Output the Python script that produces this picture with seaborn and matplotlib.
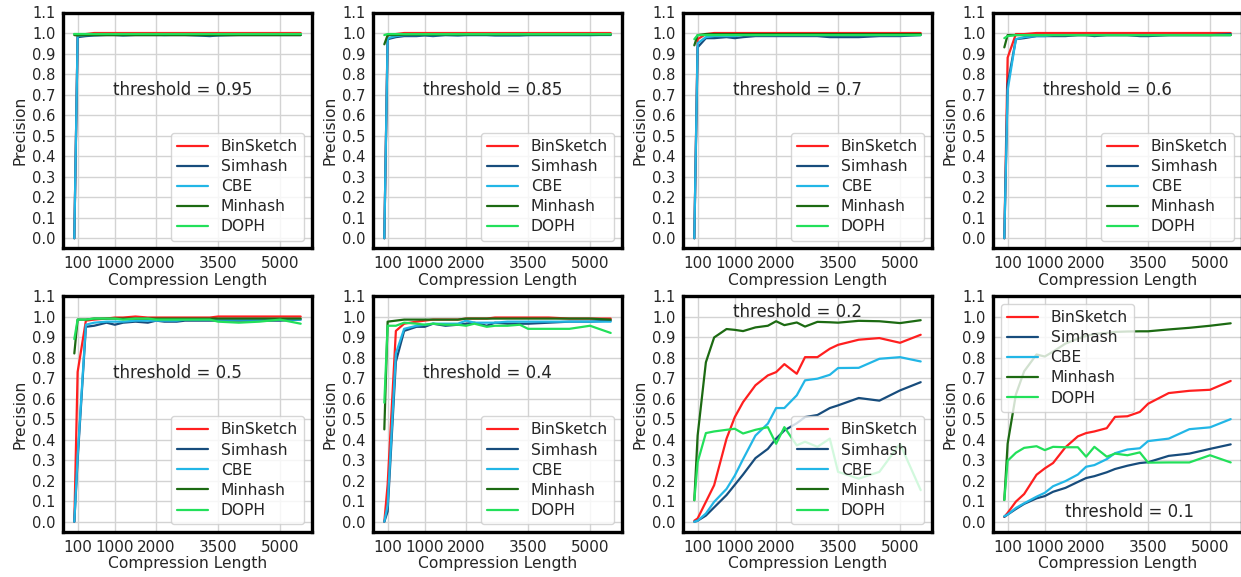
import matplotlib
matplotlib.use("Agg")
import matplotlib.pyplot as plt
import pandas as pd
import seaborn as sns

# Compression lengths shared by every panel
lengths = [20, 100, 300, 500, 800, 1000, 1200, 1500, 1800, 2000,
           2200, 2500, 2700, 3000, 3300, 3500, 4000, 4500, 5000, 5500]
methods = ["BinSketch", "Simhash", "CBE", "Minhash", "DOPH"]
thresholds = [0.95, 0.85, 0.7, 0.6, 0.5, 0.4, 0.2, 0.1]
xtick_values = [100, 1000, 2000, 3500, 5000]
ytick_values = [0.0, 0.1, 0.2, 0.3, 0.4, 0.5, 0.6, 0.7, 0.8, 0.9, 1.0, 1.1]

# threshold = 0.95
t095_binsketch = [0.0, 0.99, 0.995, 1.0, 1.0, 1.0, 1.0, 1.0, 1.0, 1.0, 1.0, 1.0, 1.0, 1.0, 1.0, 1.0, 1.0, 1.0, 1.0, 1.0]
t095_simhash = [0.0, 0.98, 0.985, 0.988, 0.99, 0.99, 0.988, 0.99, 0.99, 0.99, 0.99, 0.99, 0.99, 0.988, 0.985, 0.988, 0.99, 0.99, 0.99, 0.99]
t095_cbe = [0.0, 0.985, 0.99, 0.99, 0.992, 0.992, 0.99, 0.992, 0.992, 0.992, 0.99, 0.992, 0.992, 0.99, 0.99, 0.99, 0.992, 0.992, 0.992, 0.992]
t095_minhash = [0.99, 0.988, 0.99, 0.99, 0.99, 0.99, 0.99, 0.99, 0.99, 0.99, 0.99, 0.99, 0.99, 0.99, 0.99, 0.99, 0.99, 0.99, 0.99, 0.99]
t095_doph = [0.995, 0.995, 0.995, 0.995, 0.995, 0.995, 0.995, 0.995, 0.995, 0.995, 0.995, 0.995, 0.995, 0.995, 0.995, 0.995, 0.995, 0.995, 0.995, 0.995]

# threshold = 0.85
t085_binsketch = [0.0, 0.99, 0.995, 1.0, 1.0, 1.0, 1.0, 1.0, 1.0, 1.0, 1.0, 1.0, 1.0, 1.0, 1.0, 1.0, 1.0, 1.0, 1.0, 1.0]
t085_simhash = [0.0, 0.97, 0.98, 0.985, 0.985, 0.988, 0.985, 0.99, 0.988, 0.99, 0.99, 0.99, 0.988, 0.988, 0.988, 0.99, 0.99, 0.99, 0.99, 0.992]
t085_cbe = [0.0, 0.975, 0.985, 0.99, 0.99, 0.99, 0.99, 0.99, 0.99, 0.99, 0.99, 0.99, 0.99, 0.99, 0.99, 0.99, 0.99, 0.99, 0.99, 0.99]
t085_minhash = [0.945, 0.99, 0.99, 0.992, 0.992, 0.992, 0.992, 0.992, 0.992, 0.992, 0.992, 0.992, 0.992, 0.992, 0.992, 0.992, 0.992, 0.992, 0.992, 0.992]
t085_doph = [0.99, 0.995, 0.995, 0.995, 0.995, 0.995, 0.995, 0.995, 0.995, 0.995, 0.995, 0.995, 0.995, 0.995, 0.995, 0.995, 0.995, 0.995, 0.995, 0.995]

# threshold = 0.7
t070_binsketch = [0.0, 0.97, 0.995, 1.0, 1.0, 1.0, 1.0, 1.0, 1.0, 1.0, 1.0, 1.0, 1.0, 1.0, 1.0, 1.0, 1.0, 1.0, 1.0, 1.0]
t070_simhash = [0.0, 0.93, 0.975, 0.975, 0.98, 0.975, 0.98, 0.985, 0.985, 0.985, 0.985, 0.985, 0.985, 0.985, 0.98, 0.98, 0.98, 0.985, 0.985, 0.99]
t070_cbe = [0.0, 0.95, 0.98, 0.985, 0.985, 0.985, 0.99, 0.99, 0.99, 0.99, 0.99, 0.99, 0.99, 0.99, 0.99, 0.99, 0.99, 0.99, 0.99, 0.99]
t070_minhash = [0.94, 0.99, 0.995, 0.995, 0.995, 0.995, 0.995, 0.995, 0.995, 0.995, 0.995, 0.995, 0.995, 0.995, 0.995, 0.995, 0.995, 0.995, 0.995, 0.995]
t070_doph = [0.97, 0.99, 0.99, 0.99, 0.99, 0.99, 0.99, 0.99, 0.99, 0.99, 0.99, 0.99, 0.99, 0.99, 0.99, 0.99, 0.99, 0.99, 0.99, 0.99]

# threshold = 0.6
t060_binsketch = [0.0, 0.88, 0.995, 0.995, 1.0, 1.0, 1.0, 1.0, 1.0, 1.0, 1.0, 1.0, 1.0, 1.0, 1.0, 1.0, 1.0, 1.0, 1.0, 1.0]
t060_simhash = [0.0, 0.75, 0.97, 0.975, 0.985, 0.985, 0.985, 0.985, 0.99, 0.99, 0.985, 0.99, 0.99, 0.99, 0.985, 0.985, 0.99, 0.99, 0.99, 0.995]
t060_cbe = [0.0, 0.72, 0.97, 0.98, 0.985, 0.985, 0.99, 0.99, 0.99, 0.99, 0.99, 0.99, 0.99, 0.99, 0.99, 0.99, 0.99, 0.99, 0.99, 0.99]
t060_minhash = [0.93, 0.99, 0.99, 0.99, 0.99, 0.99, 0.99, 0.99, 0.99, 0.99, 0.99, 0.99, 0.99, 0.99, 0.99, 0.99, 0.99, 0.99, 0.99, 0.99]
t060_doph = [0.975, 0.985, 0.99, 0.99, 0.99, 0.99, 0.99, 0.99, 0.99, 0.99, 0.99, 0.99, 0.99, 0.99, 0.99, 0.99, 0.99, 0.99, 0.99, 0.99]

# threshold = 0.5
t050_binsketch = [0.0, 0.73, 0.98, 0.985, 0.99, 0.995, 0.995, 1.0, 0.995, 0.995, 0.995, 0.995, 0.995, 0.995, 0.995, 1.0, 1.0, 1.0, 1.0, 1.0]
t050_simhash = [0.0, 0.3, 0.95, 0.955, 0.97, 0.96, 0.97, 0.975, 0.97, 0.98, 0.975, 0.975, 0.98, 0.98, 0.98, 0.98, 0.98, 0.98, 0.98, 0.985]
t050_cbe = [0.0, 0.32, 0.96, 0.97, 0.975, 0.975, 0.975, 0.98, 0.98, 0.98, 0.98, 0.98, 0.985, 0.985, 0.985, 0.985, 0.985, 0.985, 0.985, 0.985]
t050_minhash = [0.82, 0.985, 0.985, 0.99, 0.99, 0.99, 0.99, 0.99, 0.99, 0.99, 0.99, 0.99, 0.99, 0.99, 0.99, 0.99, 0.99, 0.99, 0.99, 0.99]
t050_doph = [0.89, 0.985, 0.985, 0.99, 0.99, 0.99, 0.985, 0.99, 0.99, 0.985, 0.985, 0.985, 0.985, 0.985, 0.985, 0.975, 0.97, 0.975, 0.985, 0.965]

# threshold = 0.4
t040_binsketch = [0.0, 0.18, 0.93, 0.965, 0.975, 0.98, 0.985, 0.985, 0.985, 0.99, 0.99, 0.99, 0.995, 0.995, 0.995, 0.995, 0.995, 0.99, 0.99, 0.99]
t040_simhash = [0.0, 0.05, 0.78, 0.93, 0.95, 0.95, 0.965, 0.955, 0.96, 0.965, 0.97, 0.955, 0.97, 0.965, 0.965, 0.965, 0.97, 0.975, 0.975, 0.98]
t040_cbe = [0.0, 0.08, 0.82, 0.94, 0.955, 0.96, 0.965, 0.965, 0.965, 0.98, 0.97, 0.97, 0.97, 0.975, 0.975, 0.975, 0.975, 0.975, 0.975, 0.975]
t040_minhash = [0.45, 0.975, 0.98, 0.985, 0.985, 0.985, 0.985, 0.985, 0.985, 0.99, 0.99, 0.99, 0.99, 0.99, 0.99, 0.99, 0.99, 0.99, 0.99, 0.985]
t040_doph = [0.58, 0.955, 0.955, 0.97, 0.965, 0.96, 0.965, 0.96, 0.96, 0.955, 0.965, 0.95, 0.955, 0.955, 0.96, 0.94, 0.94, 0.94, 0.955, 0.92]

# threshold = 0.2
t020_binsketch = [0.005, 0.016, 0.097, 0.178, 0.405, 0.51, 0.583, 0.665, 0.713, 0.729, 0.768, 0.721, 0.802, 0.802, 0.843, 0.862, 0.887, 0.895, 0.872, 0.911]
t020_simhash = [0.0, 0.005, 0.03, 0.07, 0.13, 0.18, 0.23, 0.31, 0.355, 0.405, 0.445, 0.48, 0.51, 0.52, 0.554, 0.567, 0.603, 0.59, 0.64, 0.68]
t020_cbe = [0.0, 0.005, 0.04, 0.097, 0.16, 0.225, 0.305, 0.42, 0.478, 0.554, 0.554, 0.616, 0.689, 0.697, 0.716, 0.749, 0.75, 0.794, 0.802, 0.781]
t020_minhash = [0.105, 0.42, 0.777, 0.898, 0.939, 0.935, 0.929, 0.947, 0.955, 0.977, 0.958, 0.971, 0.951, 0.974, 0.972, 0.97, 0.979, 0.977, 0.968, 0.982]
t020_doph = [0.105, 0.29, 0.432, 0.44, 0.448, 0.453, 0.43, 0.448, 0.461, 0.38, 0.461, 0.372, 0.39, 0.365, 0.405, 0.243, 0.21, 0.243, 0.38, 0.154]

# threshold = 0.1
t010_binsketch = [0.024, 0.043, 0.098, 0.135, 0.229, 0.26, 0.286, 0.363, 0.416, 0.432, 0.44, 0.456, 0.511, 0.514, 0.535, 0.575, 0.627, 0.638, 0.643, 0.686]
t010_simhash = [0.024, 0.035, 0.062, 0.087, 0.114, 0.125, 0.146, 0.165, 0.194, 0.213, 0.222, 0.241, 0.257, 0.273, 0.286, 0.29, 0.321, 0.332, 0.355, 0.377]
t010_cbe = [0.027, 0.035, 0.067, 0.09, 0.122, 0.141, 0.173, 0.198, 0.23, 0.268, 0.276, 0.305, 0.334, 0.352, 0.358, 0.393, 0.405, 0.451, 0.46, 0.5]
t010_minhash = [0.106, 0.38, 0.62, 0.733, 0.815, 0.805, 0.829, 0.868, 0.892, 0.905, 0.915, 0.92, 0.925, 0.927, 0.928, 0.928, 0.937, 0.945, 0.955, 0.967]
t010_doph = [0.106, 0.297, 0.336, 0.36, 0.368, 0.349, 0.365, 0.363, 0.363, 0.317, 0.365, 0.317, 0.332, 0.324, 0.338, 0.288, 0.289, 0.289, 0.324, 0.289]

panel_series = {
    0.95: [t095_binsketch, t095_simhash, t095_cbe, t095_minhash, t095_doph],
    0.85: [t085_binsketch, t085_simhash, t085_cbe, t085_minhash, t085_doph],
    0.7: [t070_binsketch, t070_simhash, t070_cbe, t070_minhash, t070_doph],
    0.6: [t060_binsketch, t060_simhash, t060_cbe, t060_minhash, t060_doph],
    0.5: [t050_binsketch, t050_simhash, t050_cbe, t050_minhash, t050_doph],
    0.4: [t040_binsketch, t040_simhash, t040_cbe, t040_minhash, t040_doph],
    0.2: [t020_binsketch, t020_simhash, t020_cbe, t020_minhash, t020_doph],
    0.1: [t010_binsketch, t010_simhash, t010_cbe, t010_minhash, t010_doph],
}

palette = {
    "BinSketch": "#ff1f1f",
    "Simhash": "#174c7c",
    "CBE": "#22b6e6",
    "Minhash": "#1c6a12",
    "DOPH": "#22e05a",
}

# placement of the "threshold = ..." caption (data coordinates) and legend
caption_pos = {0.2: (950, 1.0), 0.1: (1500, 0.025)}
legend_loc = {0.1: "upper left"}

sns.set_style("whitegrid", {"axes.edgecolor": "black", "grid.color": "#d3d3d3"})
plt.rcParams["font.family"] = ["DejaVu Sans"]

W, H = 1241, 577
fig = plt.figure(figsize=(W / 100, H / 100), dpi=100)

col_left = [63, 373, 683, 993]
row_top = [12.5, 296]
ax_w, ax_h = 249, 236

for i, thr in enumerate(thresholds):
    r, c = divmod(i, 4)
    ax = fig.add_axes([col_left[c] / W, 1 - (row_top[r] + ax_h) / H, ax_w / W, ax_h / H])
    rows = []
    for m, vals in zip(methods, panel_series[thr]):
        for x, y in zip(lengths, vals):
            rows.append({"Compression Length": x, "Precision": y, "method": m})
    df = pd.DataFrame(rows)
    sns.lineplot(data=df, x="Compression Length", y="Precision", hue="method",
                 hue_order=methods, palette=palette, linewidth=1.6, ax=ax)
    ax.set_ylim(-0.05, 1.1)
    ax.set_yticks(ytick_values)
    ax.set_xticks(xtick_values)
    ax.tick_params(axis="x", labelsize=11, pad=2)
    ax.tick_params(axis="y", labelsize=10.5, pad=2)
    ax.set_xlabel("Compression Length", fontsize=11.2, labelpad=1)
    ax.set_ylabel("Precision", fontsize=11.2, labelpad=3)
    for s in ax.spines.values():
        s.set_linewidth(2.4)
        s.set_color("black")
    ax.grid(True, color="#d3d3d3", linewidth=1.0)
    tx, ty = caption_pos.get(thr, (950, 0.7))
    ax.text(tx, ty, f"threshold = {thr}", fontsize=12, color=".15")
    ax.legend(loc=legend_loc.get(thr, "lower right"), fontsize=11.2,
              labelspacing=0.33, framealpha=0.8)

fig.savefig("out.png", dpi=100)
